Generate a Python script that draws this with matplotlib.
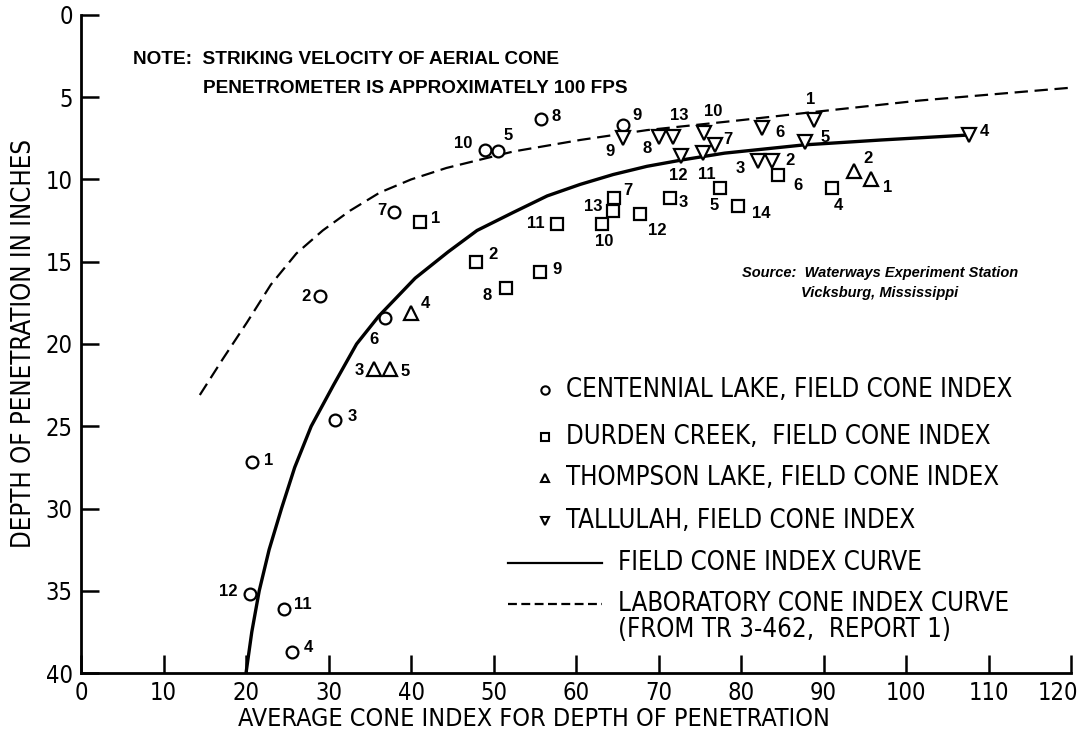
import matplotlib.pyplot as plt
from matplotlib.lines import Line2D
from matplotlib.transforms import ScaledTranslation
from matplotlib import font_manager

# Centennial Lake (circles)
cent_lbl = ['1', '12', '11', '4', '3', '6', '2', '7', '10', '5', '8', '9']
cent_x = [20.7, 20.5, 24.6, 25.6, 30.8, 36.8, 29.0, 37.9, 49.0, 50.6, 55.8, 65.7]
cent_y = [27.2, 35.2, 36.1, 38.7, 24.6, 18.4, 17.1, 12.0, 8.2, 8.3, 6.3, 6.7]

# Durden Creek (squares)
dur_lbl = ['1', '2', '8', '9', '11', '10', '13', '7', '12', '3', '5', '14', '6', '4']
dur_x = [41.1, 47.9, 51.5, 55.6, 57.7, 63.1, 64.5, 64.6, 67.7, 71.4, 77.4, 79.6, 84.5, 91.0]
dur_y = [12.6, 15.0, 16.6, 15.6, 12.7, 12.7, 11.9, 11.1, 12.1, 11.1, 10.5, 11.6, 9.7, 10.5]

# Thompson Lake (triangles up)
tho_lbl = ['4', '3', '5', '2', '1']
tho_x = [40.0, 35.5, 37.5, 93.7, 95.8]
tho_y = [18.1, 21.5, 21.5, 9.5, 10.0]

# Tallulah (triangles down)
tal_lbl = ['9', '8', '13', '12', '10', '7', '11', '6', '1', '5', '3', '2', '4']
tal_x = [65.7, 70.1, 71.8, 72.7, 75.5, 76.8, 75.4, 82.5, 88.9, 87.8, 82.0, 83.8, 107.6]
tal_y = [7.5, 7.4, 7.4, 8.6, 7.2, 7.9, 8.4, 6.9, 6.4, 7.7, 8.9, 8.9, 7.3]

# field cone index curve
field_x = [20.0, 20.7, 21.6, 22.8, 24.3, 25.9, 27.9, 30.6, 33.4, 36.1, 40.5, 44.5,
           48.0, 52.4, 56.5, 60.5, 64.5, 68.6, 73.0, 78.0, 87.6, 97.0, 107.5]
field_y = [40.0, 37.5, 35.0, 32.5, 30.0, 27.5, 25.0, 22.5, 20.0, 18.3, 16.0, 14.4,
           13.1, 12.0, 11.0, 10.3, 9.7, 9.2, 8.8, 8.4, 7.9, 7.6, 7.3]

# laboratory cone index curve
lab_x = [14.4, 17.2, 20.1, 23.0, 26.1, 29.3, 32.6, 36.2, 40.0, 44.3, 52.4, 60.5,
         68.6, 79.9, 88.8, 101.7, 120.5]
lab_y = [23.1, 20.9, 18.7, 16.4, 14.5, 13.1, 11.9, 10.8, 10.0, 9.3, 8.3, 7.6,
         7.0, 6.4, 5.9, 5.2, 4.4]

# label offsets in pixels (dx, dy), dy positive = down
cent_off = [(17, -2), (-22, -3), (19, -4), (16, -4), (17, -3), (-11, 22), (-14, 0),
            (-12, -2), (-22, -6), (10, -16), (15, -2), (14, -10)]
dur_off = [(16, -4), (17, -7), (-19, 7), (17, -2), (-21, 0), (3, 18), (-20, -4),
           (14, -7), (18, 16), (13, 5), (-5, 18), (23, 8), (20, 11), (7, 18)]
tho_off = [(14, -9), (-15, 2), (15, 3), (14, -13), (16, 8)]
tal_off = [(-13, 13), (-12, 12), (6, -21), (-3, 19), (9, -22), (13, -5), (4, 21),
           (18, 4), (-4, -21), (20, -4), (-17, 7), (18, -1), (16, -4)]

# the original uses a tall condensed lettering; pick a narrow face if there is one
fonts = font_manager.fontManager.ttflist
names = {f.name for f in fonts}
if 'Liberation Sans Narrow' in names:
    NARROW = dict(family=['Liberation Sans Narrow', 'DejaVu Sans'])
    big, tick = 20, 18
elif any(f.name == 'DejaVu Sans' and 'condensed' in str(f.stretch) for f in fonts):
    NARROW = dict(family=['DejaVu Sans'], stretch='condensed')
    big, tick = 18.5, 17
else:
    NARROW = dict(family=['DejaVu Sans'])
    big, tick = 16.5, 15
BOLD = ['Liberation Sans', 'DejaVu Sans']

fig = plt.figure(figsize=(10.83, 7.47), dpi=100)
ax = fig.add_axes([0.0748, 0.099, 0.9142, 0.881])

ax.plot(field_x, field_y, color='black', lw=2.4, solid_capstyle='butt')
ax.plot(lab_x, lab_y, color='black', lw=1.6, ls=(0, (6, 3)))

series = [
    (cent_x, cent_y, cent_lbl, cent_off, 'o', 8.5),
    (dur_x, dur_y, dur_lbl, dur_off, 's', 8.5),
    (tho_x, tho_y, tho_lbl, tho_off, '^', 9.5),
    (tal_x, tal_y, tal_lbl, tal_off, 'v', 9.5),
]
for xs, ys, lbls, offs, mk, ms in series:
    ax.plot(xs, ys, ls='none', marker=mk, ms=ms, mfc='white', mec='black', mew=1.6)
    for x, y, t, (dx, dy) in zip(xs, ys, lbls, offs):
        ax.annotate(t, (x, y), xytext=(dx, -dy), textcoords='offset pixels',
                    ha='center', va='center', fontsize=12, fontweight='bold',
                    family=BOLD)

ax.set_xlim(0, 120)
ax.set_ylim(40, 0)
ax.set_xticks(range(0, 121, 10))
ax.set_yticks(range(0, 41, 5))
ax.spines['top'].set_visible(False)
ax.spines['right'].set_visible(False)
ax.spines['left'].set_linewidth(2)
ax.spines['bottom'].set_linewidth(2)
ax.tick_params(direction='in', length=13, width=1.8, labelsize=tick, pad=6)
for lab in ax.get_xticklabels() + ax.get_yticklabels():
    lab.set(**NARROW)
# keep the last x label inside the page, as in the original
last = ax.get_xticklabels()[-1]
last.set_transform(last.get_transform() + ScaledTranslation(-0.13, 0, fig.dpi_scale_trans))

ax.set_xlabel('AVERAGE CONE INDEX FOR DEPTH OF PENETRATION', fontsize=big - 0.5, **NARROW)
ax.xaxis.set_label_coords(0.457, -0.052)
ax.set_ylabel('DEPTH OF PENETRATION IN INCHES', fontsize=big, labelpad=6, **NARROW)

# note and source
ax.text(6.3, 2.7, 'NOTE:  STRIKING VELOCITY OF AERIAL CONE', fontsize=13.7,
        fontweight='bold', family=BOLD, va='center')
ax.text(14.8, 4.5, 'PENETROMETER IS APPROXIMATELY 100 FPS', fontsize=13.7,
        fontweight='bold', family=BOLD, va='center')
ax.text(96.8, 15.7, 'Source:  Waterways Experiment Station', fontsize=10.5,
        style='italic', fontweight='bold', family=BOLD, ha='center', va='center')
ax.text(96.8, 16.9, 'Vicksburg, Mississippi', fontsize=10.5, style='italic',
        fontweight='bold', family=BOLD, ha='center', va='center')

# legend drawn by hand
leg_rows = [0.430, 0.359, 0.296, 0.231, 0.167, 0.105]
leg_mk = ['o', 's', '^', 'v']
leg_txt = ['CENTENNIAL LAKE, FIELD CONE INDEX', 'DURDEN CREEK,  FIELD CONE INDEX',
           'THOMPSON LAKE, FIELD CONE INDEX', 'TALLULAH, FIELD CONE INDEX']
for yy, mk, t in zip(leg_rows, leg_mk, leg_txt):
    ax.add_line(Line2D([0.469], [yy], transform=ax.transAxes, marker=mk, ms=6,
                       mfc='white', mec='black', mew=1.5, ls='none'))
    ax.text(0.490, yy, t, transform=ax.transAxes, fontsize=big, va='center', **NARROW)
ax.add_line(Line2D([0.431, 0.526], [leg_rows[4]] * 2, transform=ax.transAxes,
                   color='black', lw=1.6))
ax.text(0.542, leg_rows[4], 'FIELD CONE INDEX CURVE', transform=ax.transAxes,
        fontsize=big, va='center', **NARROW)
ax.add_line(Line2D([0.431, 0.526], [leg_rows[5]] * 2, transform=ax.transAxes,
                   color='black', lw=1.6, ls=(0, (4, 2))))
ax.text(0.542, leg_rows[5], 'LABORATORY CONE INDEX CURVE', transform=ax.transAxes,
        fontsize=big, va='center', **NARROW)
ax.text(0.542, 0.065, '(FROM TR 3-462,  REPORT 1)', transform=ax.transAxes,
        fontsize=big, va='center', **NARROW)

fig.savefig('out.png', dpi=100)
